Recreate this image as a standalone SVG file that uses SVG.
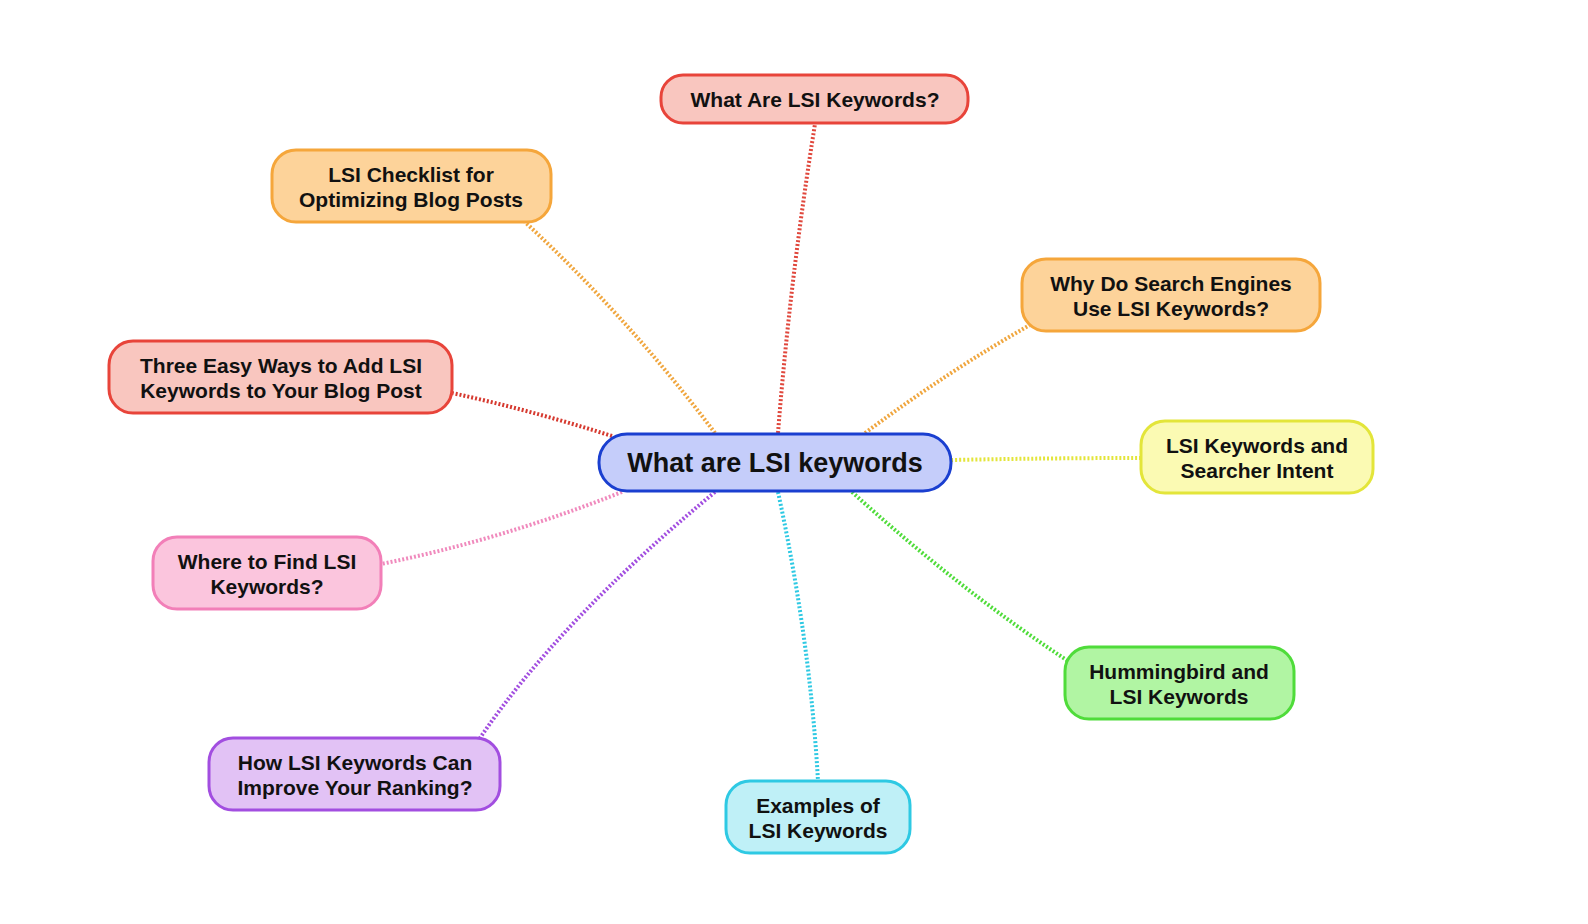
<svg xmlns="http://www.w3.org/2000/svg" width="1588" height="924" viewBox="0 0 1588 924">
<style>
text{font-family:"Liberation Sans",Arial,sans-serif;font-weight:bold;fill:#111;text-anchor:middle}
.n rect{stroke-width:3}
.n text{font-size:21px}
#connectors path{fill:none;stroke-width:4;stroke-dasharray:2 2}
.red rect{fill:#f9c6bf;stroke:#e8443a}
.org rect{fill:#fdd39a;stroke:#f5a63b}
.yel rect{fill:#fbfab3;stroke:#e3e53a}
.pnk rect{fill:#fbc5dd;stroke:#f27fb8}
.grn rect{fill:#b1f5a3;stroke:#4fdc3a}
.pur rect{fill:#e2c2f5;stroke:#a24ee0}
.cyn rect{fill:#bff0f7;stroke:#2ec9e3}
</style>
<rect width="1588" height="924" fill="#fff"/>
<g id="connectors">
<path d="M778 433 Q790 280 815 124" stroke="#e0473c"/>
<path d="M715 433 Q630 320 525 222" stroke="#f0a63e"/>
<path d="M865 433 Q950 370 1030 325" stroke="#f0a63e"/>
<path d="M612 436 Q530 410 452 393" stroke="#d63a30"/>
<path d="M951 460 Q1050 458 1141 458" stroke="#e3e53a"/>
<path d="M622 492 Q500 540 381 564" stroke="#f08abd"/>
<path d="M715 492 Q560 620 480 738" stroke="#a24ee0"/>
<path d="M778 492 Q810 640 818 781" stroke="#2ec9e3"/>
<path d="M852 492 Q960 590 1068 661" stroke="#4fdc3a"/>
</g>
<g id="center">
<rect x="599" y="434" width="352" height="57" rx="28" fill="#c5cdfa" stroke="#1a3fd0" stroke-width="3"/>
<text x="775" y="472" font-size="27">What are LSI keywords</text>
</g>
<g id="n1" class="n red"><rect x="661" y="75" width="307" height="48" rx="22"/><text x="815" y="107">What Are LSI Keywords?</text></g>
<g id="n2" class="n org"><rect x="272" y="150" width="279" height="72" rx="24"/><text x="411" y="182">LSI Checklist for</text><text x="411" y="207">Optimizing Blog Posts</text></g>
<g id="n3" class="n org"><rect x="1022" y="259" width="298" height="72" rx="24"/><text x="1171" y="291">Why Do Search Engines</text><text x="1171" y="316">Use LSI Keywords?</text></g>
<g id="n4" class="n red"><rect x="109" y="341" width="343" height="72" rx="24"/><text x="281" y="373">Three Easy Ways to Add LSI</text><text x="281" y="398">Keywords to Your Blog Post</text></g>
<g id="n5" class="n yel"><rect x="1141" y="421" width="232" height="72" rx="24"/><text x="1257" y="453">LSI Keywords and</text><text x="1257" y="478">Searcher Intent</text></g>
<g id="n6" class="n pnk"><rect x="153" y="537" width="228" height="72" rx="24"/><text x="267" y="569">Where to Find LSI</text><text x="267" y="594">Keywords?</text></g>
<g id="n7" class="n grn"><rect x="1065" y="647" width="229" height="72" rx="24"/><text x="1179" y="679">Hummingbird and</text><text x="1179" y="704">LSI Keywords</text></g>
<g id="n8" class="n pur"><rect x="209" y="738" width="291" height="72" rx="24"/><text x="355" y="770">How LSI Keywords Can</text><text x="355" y="795">Improve Your Ranking?</text></g>
<g id="n9" class="n cyn"><rect x="726" y="781" width="184" height="72" rx="24"/><text x="818" y="813">Examples of</text><text x="818" y="838">LSI Keywords</text></g>
</svg>
